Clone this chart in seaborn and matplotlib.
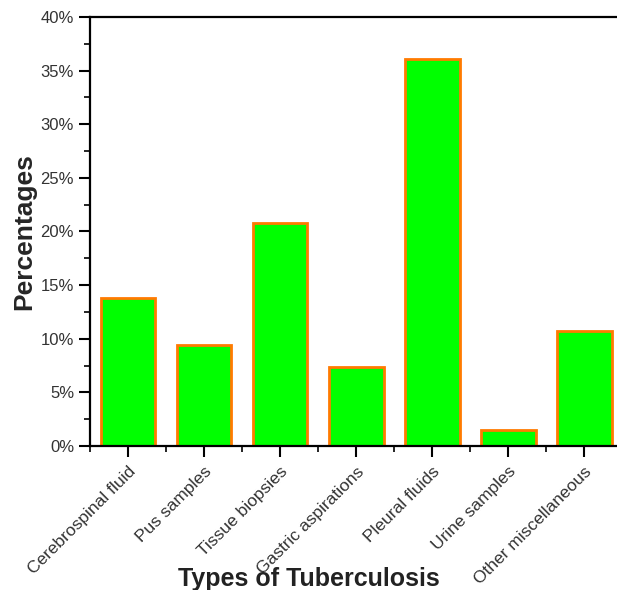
import numpy as np
import pandas as pd
import matplotlib
matplotlib.use("Agg")
import matplotlib.pyplot as plt
import seaborn as sns
from matplotlib.ticker import PercentFormatter, MultipleLocator, FixedLocator

# data
kategori = ["Cerebrospinal fluid", "Pus samples", "Tissue biopsies",
            "Gastric aspirations", "Pleural fluids", "Urine samples",
            "Other miscellaneous"]
persen = [13.8, 9.4, 20.8, 7.4, 36.1, 1.5, 10.7]

df = pd.DataFrame({"tipe": kategori, "persen": persen})

sns.set_style("white")
plt.rcParams['font.family'] = ['Liberation Sans', 'DejaVu Sans']

fig = plt.figure(figsize=(6.17, 5.9), dpi=100)
ax = fig.add_axes([90 / 617, 1 - 446 / 590, 1 - 90 / 617, (446 - 17) / 590])

sns.barplot(data=df, x="tipe", y="persen", color="#00ff00", saturation=1,
            edgecolor="#ff7a00", linewidth=2, width=0.72, ax=ax)

ax.set_ylim(0, 40)
ax.set_xlim(-0.5, 6.43)
ax.yaxis.set_major_locator(MultipleLocator(5))
ax.yaxis.set_minor_locator(MultipleLocator(2.5))
ax.yaxis.set_major_formatter(PercentFormatter(decimals=0))
ax.xaxis.set_minor_locator(FixedLocator(np.arange(-0.5, 7, 1)))

for s in ["left", "bottom", "top"]:
    ax.spines[s].set_visible(True)
    ax.spines[s].set_color("black")
    ax.spines[s].set_linewidth(1.6)
ax.spines["right"].set_visible(False)

ax.tick_params(axis="both", which="major", direction="out", length=8, width=1.5,
               color="black", labelsize=12, labelcolor="#333333")
ax.tick_params(axis="x", which="major", labelsize=12.5, pad=5)
ax.tick_params(axis="both", which="minor", direction="out", length=4, width=1.2,
               color="black")
ax.tick_params(bottom=True, left=True, which="both")

plt.setp(ax.get_xticklabels(), rotation=45, ha="right", rotation_mode="anchor")

ax.set_ylabel("Percentages", fontsize=19, fontweight="bold", labelpad=3)
ax.set_xlabel("")
fig.text(0.5, 0.018, "Types of Tuberculosis", fontsize=18, fontweight="bold",
         ha="center", va="center", color="#222222", zorder=0)

fig.savefig("out.png", dpi=100)
